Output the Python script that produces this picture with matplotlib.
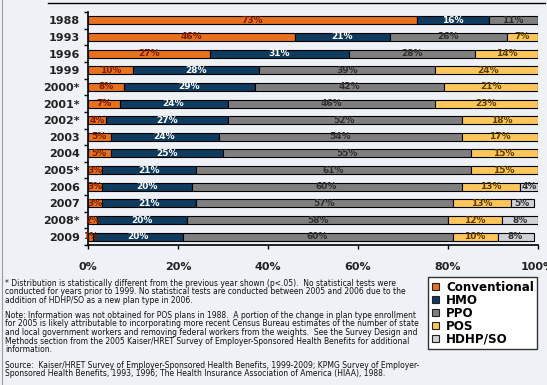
import numpy as np
import matplotlib
matplotlib.use("Agg")
import matplotlib.pyplot as plt
from matplotlib.patches import Patch
from matplotlib.lines import Line2D

# Plan type enrollment shares (%) by survey year
years = ["1988", "1993", "1996", "1999", "2000*", "2001*", "2002*", "2003",
         "2004", "2005*", "2006", "2007", "2008*", "2009"]
conventional = [73, 46, 27, 10, 8, 7, 4, 5, 5, 3, 3, 3, 2, 1]
hmo = [16, 21, 31, 28, 29, 24, 27, 24, 25, 21, 20, 21, 20, 20]
ppo = [11, 26, 28, 39, 42, 46, 52, 54, 55, 61, 60, 57, 58, 60]
pos = [0, 7, 14, 24, 21, 23, 18, 17, 15, 15, 13, 13, 12, 10]
hdhp = [0, 0, 0, 0, 0, 0, 0, 0, 0, 0, 4, 5, 8, 8]

plan_names = ["Conventional", "HMO", "PPO", "POS", "HDHP/SO"]
series = [conventional, hmo, ppo, pos, hdhp]
fills = ["#e8711e", "#0f3b5f", "#7f7f7f", "#fcc65c", "#cfd1d4"]
text_cols = ["#7a1e00", "white", "#303030", "#5a3c00", "#303030"]

bg = "#eef1f5"
fig = plt.figure(figsize=(5.47, 3.85), dpi=100, facecolor=bg)
ax = fig.add_axes([88 / 547, 1 - 245 / 385, 450 / 547, 233 / 385], facecolor=bg)

y = np.arange(len(years))
left = np.zeros(len(years))
for vals, col, tcol in zip(series, fills, text_cols):
    vals = np.array(vals, dtype=float)
    ax.barh(y, vals, left=left, height=0.48, color=col, edgecolor="black", linewidth=0.8)
    for yi, (l, v) in enumerate(zip(left, vals)):
        if v > 0:
            ax.text(l + v / 2, yi, f"{int(v)}%", ha="center", va="center",
                    fontsize=6.5, fontweight="bold", color=tcol)
    left += vals

ax.set_xlim(0, 100)
ax.set_ylim(13.42, -0.42)
ax.set_yticks(y)
ax.set_yticklabels(years, fontsize=8, fontweight="bold", color="#222222")
ax.set_yticks(np.arange(-0.5, len(years), 1), minor=True)
ax.tick_params(axis="y", which="major", length=0, pad=6)
ax.tick_params(axis="y", which="minor", length=3, width=1, direction="out")
ax.set_xticks([0, 20, 40, 60, 80, 100])
ax.set_xticklabels(["0%", "20%", "40%", "60%", "80%", "100%"], fontsize=8,
                   fontweight="bold", color="#222222")
ax.tick_params(axis="x", length=3, width=1, direction="out", pad=9)
for s in ["top", "right"]:
    ax.spines[s].set_visible(False)
ax.spines["left"].set_linewidth(1.2)
ax.spines["bottom"].set_linewidth(1.2)

# frame lines
fig.add_artist(Line2D([48 / 547, 545 / 547], [1 - 3 / 385] * 2, color="black", lw=1))
fig.add_artist(Line2D([2 / 547] * 2, [0, 1], color="#9a9a9a", lw=0.8))

# footnotes
notes = [
    (283, "* Distribution is statistically different from the previous year shown (p<.05).  No statistical tests were"),
    (292, "conducted for years prior to 1999. No statistical tests are conducted between 2005 and 2006 due to the"),
    (300.5, "addition of HDHP/SO as a new plan type in 2006."),
    (315, "Note: Information was not obtained for POS plans in 1988.  A portion of the change in plan type enrollment"),
    (324, "for 2005 is likely attributable to incorporating more recent Census Bureau estimates of the number of state"),
    (332.5, "and local government workers and removing federal workers from the weights.  See the Survey Design and"),
    (341, "Methods section from the 2005 Kaiser/HRET Survey of Employer-Sponsored Health Benefits for additional"),
    (349.5, "information."),
    (365, "Source:  Kaiser/HRET Survey of Employer-Sponsored Health Benefits, 1999-2009; KPMG Survey of Employer-"),
    (374, "Sponsored Health Benefits, 1993, 1996; The Health Insurance Association of America (HIAA), 1988."),
]
for py, txt in notes:
    fig.text(5 / 547, 1 - py / 385, txt, fontsize=5.5, va="center", ha="left", color="#111111")

handles = [Patch(facecolor=c, edgecolor="#222222", linewidth=0.8) for c in fills]
leg = fig.legend(handles, plan_names, loc="upper left",
                 bbox_to_anchor=(428 / 547, 1 - 277 / 385),
                 prop={"size": 8.6, "weight": "bold"}, handlelength=0.6,
                 handleheight=0.6, handletextpad=0.6, labelspacing=0.0,
                 borderpad=0.3, borderaxespad=0, fancybox=False, facecolor="white",
                 edgecolor="#333333", framealpha=1)
leg.get_frame().set_linewidth(1)

fig.savefig("out.png", dpi=100, facecolor=bg)
